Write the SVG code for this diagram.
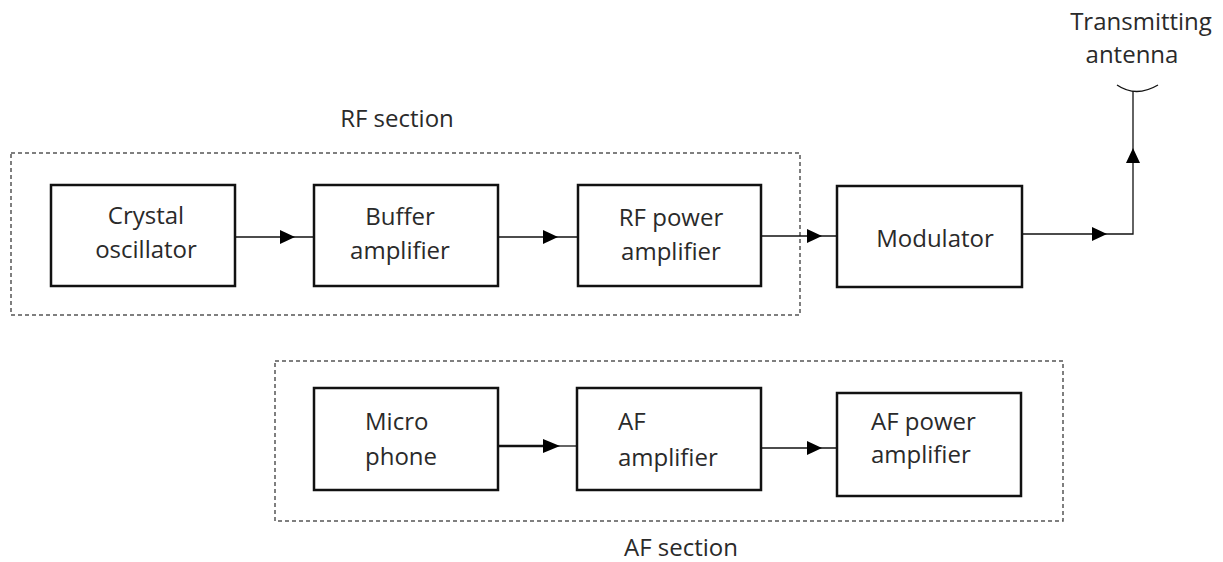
<svg xmlns="http://www.w3.org/2000/svg" width="1223" height="562" viewBox="0 0 1223 562">
<defs>
<style>
.box{fill:#fff;stroke:#111;stroke-width:2.5}
.sec{fill:none;stroke:#555;stroke-width:1.5;stroke-dasharray:4 3}
.ln{fill:none;stroke:#111;stroke-width:1.3}
.ah{fill:#000}
text{font-family:"Open Sans","Liberation Sans",sans-serif;font-size:24px;fill:#2a2a2a}
.c{text-anchor:middle}
</style>
</defs>
<rect width="1223" height="562" fill="#fff"/>
<g id="sections">
<rect class="sec" x="11" y="153" width="789" height="162"/>
<text class="c" x="397" y="127">RF section</text>
<rect class="sec" x="275" y="361" width="788" height="160"/>
<text class="c" x="681" y="556">AF section</text>
</g>
<g id="connectors">
<line class="ln" x1="235" y1="237" x2="314" y2="237"/>
<polygon class="ah" points="280,230 295,237 280,244"/>
<line class="ln" x1="498" y1="237" x2="578" y2="237"/>
<polygon class="ah" points="543,230 558,237 543,244"/>
<line class="ln" x1="761" y1="236" x2="842" y2="236"/>
<polygon class="ah" points="807,229 822,236 807,243"/>
<polyline class="ln" points="1022,234 1133,234 1133,91"/>
<polygon class="ah" points="1092,227 1107,234 1092,241"/>
<polygon class="ah" points="1126,163 1133,148 1140,163"/>
<path class="ln" d="M1117,85 Q1136,98 1158,85"/>
<line x1="498" y1="446" x2="548" y2="446" stroke="#111" stroke-width="2.5"/>
<line class="ln" x1="548" y1="446" x2="577" y2="446"/>
<polygon class="ah" points="543,439 560,446 543,453"/>
<line class="ln" x1="761" y1="448" x2="842" y2="448"/>
<polygon class="ah" points="807,441 822,448 807,455"/>
</g>
<g id="crystal">
<rect class="box" x="51" y="185" width="184" height="101"/>
<text class="c" x="146" y="224">Crystal</text>
<text class="c" x="146" y="258">oscillator</text>
</g>
<g id="buffer">
<rect class="box" x="314" y="185" width="184" height="101"/>
<text class="c" x="400" y="225">Buffer</text>
<text class="c" x="400" y="259">amplifier</text>
</g>
<g id="rfpower">
<rect class="box" x="578" y="185" width="183" height="101"/>
<text class="c" x="671" y="226">RF power</text>
<text class="c" x="671" y="260">amplifier</text>
</g>
<g id="modulator">
<rect class="box" x="837" y="186" width="185" height="101"/>
<text class="c" x="935" y="247">Modulator</text>
</g>
<g id="antenna">
<text class="c" x="1141" y="30">Transmitting</text>
<text class="c" x="1132" y="63">antenna</text>
</g>
<g id="microphone">
<rect class="box" x="314" y="388" width="184" height="102"/>
<text x="365" y="430">Micro</text>
<text x="365" y="465">phone</text>
</g>
<g id="afamp">
<rect class="box" x="577" y="388" width="184" height="102"/>
<text x="618" y="430">AF</text>
<text x="618" y="466">amplifier</text>
</g>
<g id="afpower">
<rect class="box" x="837" y="393" width="184" height="103"/>
<text x="871" y="430">AF power</text>
<text x="871" y="463">amplifier</text>
</g>
</svg>
